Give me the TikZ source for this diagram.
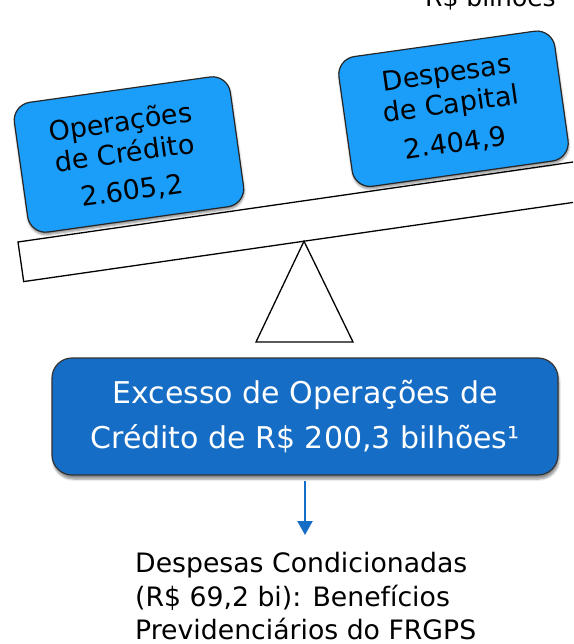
\documentclass[tikz,border=0pt]{standalone}
\usepackage{fontspec}
\setmainfont{DejaVu Sans}
\usetikzlibrary{shadows.blur,arrows.meta}
\definecolor{lightblue}{RGB}{27,157,250}
\definecolor{darkblue}{RGB}{22,109,197}
\begin{document}
\begin{tikzpicture}[x=1pt,y=1pt,
  lbox/.style={draw=black!85, line width=1.2pt, fill=lightblue, rounded corners=18pt,
    minimum width=218pt, minimum height=131pt, inner sep=0pt,
    blur shadow={shadow xshift=0.5pt, shadow yshift=-2.5pt, shadow blur steps=5, shadow opacity=45}},
  ltext/.style={font=\fontsize{27}{31.5}\selectfont, align=center, inner sep=0pt},
  dbox/.style={draw=black!80, line width=1.2pt, fill=darkblue, rounded corners=20pt,
    minimum width=506pt, minimum height=117pt, text=white, align=center, inner sep=0pt,
    font=\fontsize{30}{45}\selectfont,
    blur shadow={shadow xshift=1pt, shadow yshift=-4pt, shadow blur steps=6, shadow opacity=45}},
  beamline/.style={draw=black, line width=1.3pt},
  arr/.style={draw=darkblue, line width=2.2pt, -{Triangle[width=15pt,length=14pt]}}
]
\useasboundingbox (0,0) rectangle (573,-644);
\clip (0,0) rectangle (573,-644);

% unit label (cut at the top)
\node[font=\fontsize{25}{30}\selectfont, anchor=base west, inner sep=0pt] (unit) at (425,-7) {R\$ bilhões};

% beam
\begin{scope}[shift={(18,-242)}, rotate=8.2]
  \draw[beamline, fill=white] (0,0) rectangle (700,-40);
  \coordinate (pivot) at (283.2,-40);
\end{scope}

% fulcrum
\coordinate (fl) at (256,-342);
\coordinate (fr) at (353,-342);
\draw[beamline, line join=miter] (pivot) -- (fl) -- (fr) -- cycle;

% left box
\begin{scope}[shift={(129,-154.5)}, rotate=8, transform shape]
  \node[lbox] (opc) at (0,0) {};
  \node[ltext] (opct) at (-4,18.5) {Operações\\de Crédito};
  \node[ltext] (opcv) at (-2,-37) {2.605,2};
\end{scope}

% right box
\begin{scope}[shift={(453.5,-108.75)}, rotate=8, transform shape]
  \node[lbox] (dcp) at (0,0) {};
  \node[ltext] (dcpt) at (-2,18.5) {Despesas\\de Capital};
  \node[ltext] (dcpv) at (-3,-35) {2.404,9};
\end{scope}

% dark box
\node[dbox] (exc) at (305,-416.5) {Excesso de Operações de\\Crédito de R\$ 200,3 bilhões¹};

% arrow
\coordinate (arrend) at (305,-535);
\draw[arr, shorten <=5pt] (exc.south) -- (arrend);

% bottom text
\node[anchor=north west, align=left, inner sep=0pt, font=\fontsize{26.7}{33.5}\selectfont] (cond) at (135,-552.5)
  {Despesas Condicionadas\\(R\$ 69,2 bi): Benefícios\\Previdenciários do FRGPS};
\end{tikzpicture}
\end{document}
